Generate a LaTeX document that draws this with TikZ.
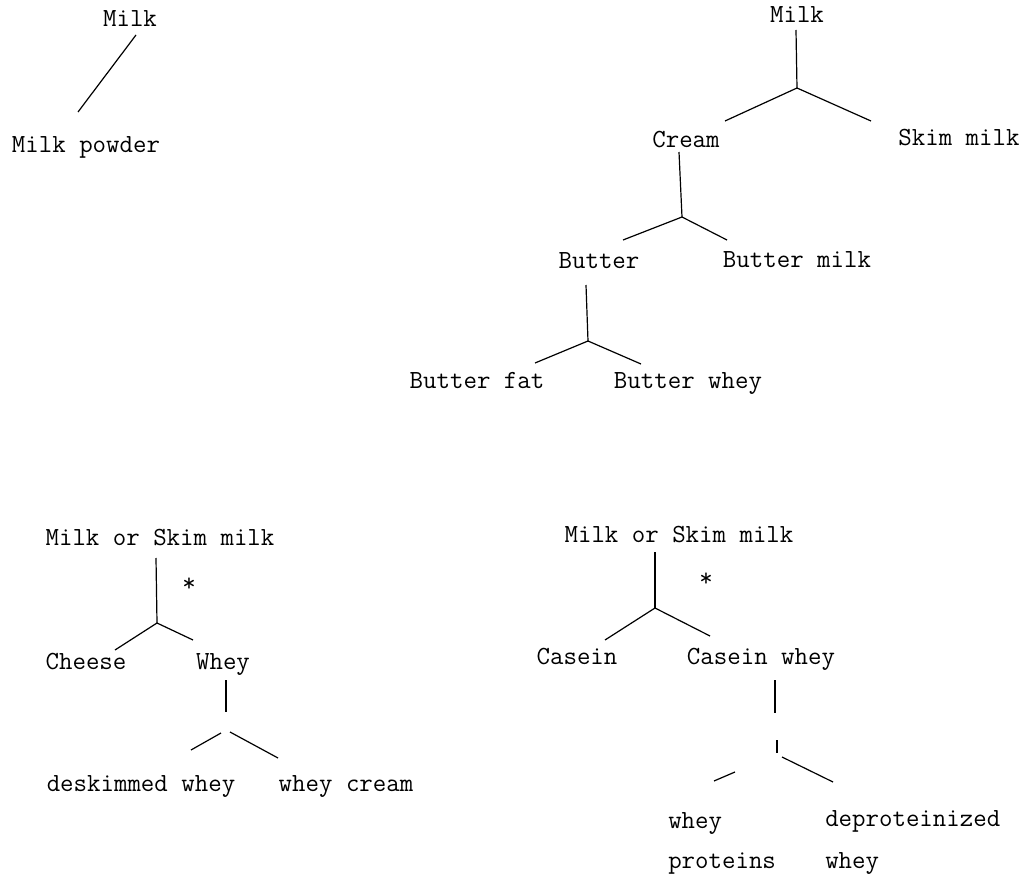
\documentclass[tikz,border=0pt]{standalone}
\usepackage{fontspec}
\begin{document}
\begin{tikzpicture}[x=0.75pt,y=-0.75pt,
  lbl/.style={font=\ttfamily\fontsize{19.6}{22}\selectfont,inner sep=0pt,anchor=base},
  lbll/.style={lbl,anchor=base west},
  ln/.style={line width=0.9pt,black},
  starlbl/.style={font=\ttfamily\fontsize{19.6}{22}\selectfont,inner sep=0pt,anchor=base}]
\useasboundingbox (0,0) rectangle (1036,874);
% Panel 1
\node[lbl] (p1milk) at (130,27) {Milk};
\node[lbl] (p1powder) at (86,152) {Milk powder};
\coordinate (p1a) at (136,35); \coordinate (p1b) at (78,112);
\draw[ln] (p1a) -- (p1b);
% Panel 2
\node[lbl] (p2milk) at (797,23) {Milk};
\node[lbl] (p2cream) at (686,147) {Cream};
\node[lbl] (p2skim) at (959,146) {Skim milk};
\node[lbl] (p2butter) at (599,268) {Butter};
\node[lbl] (p2bmilk) at (797,267) {Butter milk};
\node[lbl] (p2bfat) at (477,388) {Butter fat};
\node[lbl] (p2bwhey) at (688,388) {Butter whey};
\coordinate (p2t1) at (796,30); \coordinate (p2j1) at (797,88);
\coordinate (p2l1) at (725,121); \coordinate (p2r1) at (871,121);
\draw[ln] (p2t1) -- (p2j1);
\draw[ln] (p2l1) -- (p2j1) -- (p2r1);
\coordinate (p2t2) at (679,152); \coordinate (p2j2) at (682,217);
\coordinate (p2l2) at (623,240); \coordinate (p2r2) at (727,240);
\draw[ln] (p2t2) -- (p2j2);
\draw[ln] (p2l2) -- (p2j2) -- (p2r2);
\coordinate (p2t3) at (586,285); \coordinate (p2j3) at (588,341);
\coordinate (p2l3) at (535,363); \coordinate (p2r3) at (641,364);
\draw[ln] (p2t3) -- (p2j3);
\draw[ln] (p2l3) -- (p2j3) -- (p2r3);
% Panel 3
\node[lbl] (p3milk) at (160,545) {Milk or Skim milk};
\node[starlbl] (p3star) at (189,591) {*};
\node[lbl] (p3cheese) at (86,669) {Cheese};
\node[lbl] (p3whey) at (223,669) {Whey};
\node[lbl] (p3desk) at (141,791) {deskimmed whey};
\node[lbl] (p3cream) at (346,791) {whey cream};
\coordinate (p3t1) at (156,558); \coordinate (p3j1) at (157,623);
\coordinate (p3l1) at (115,650); \coordinate (p3r1) at (193,640);
\draw[ln] (p3t1) -- (p3j1);
\draw[ln] (p3l1) -- (p3j1) -- (p3r1);
\coordinate (p3t2) at (226,680); \coordinate (p3m2) at (226,712);
\coordinate (p3la) at (221,733); \coordinate (p3lb) at (191,750);
\coordinate (p3ra) at (230,732); \coordinate (p3rb) at (278,758);
\draw[ln] (p3t2) -- (p3m2);
\draw[ln] (p3la) -- (p3lb);
\draw[ln] (p3ra) -- (p3rb);
% Panel 4
\node[lbl] (p4milk) at (679,542) {Milk or Skim milk};
\node[starlbl] (p4star) at (706,586) {*};
\node[lbl] (p4casein) at (577,664) {Casein};
\node[lbl] (p4cwhey) at (761,664) {Casein whey};
\node[lbll] (p4wp1) at (668,828) {whey};
\node[lbll] (p4wp2) at (668,868) {proteins};
\node[lbll] (p4dw1) at (825,826) {deproteinized};
\node[lbll] (p4dw2) at (825,868) {whey};
\coordinate (p4t1) at (655,552); \coordinate (p4j1) at (655,608);
\coordinate (p4l1) at (605,640); \coordinate (p4r1) at (710,636);
\draw[ln] (p4t1) -- (p4j1);
\draw[ln] (p4l1) -- (p4j1) -- (p4r1);
\coordinate (p4t2) at (775,680); \coordinate (p4m2) at (775,713);
\coordinate (p4m3) at (777,740); \coordinate (p4j2) at (777,753);
\coordinate (p4la) at (735,772); \coordinate (p4lb) at (714,781);
\coordinate (p4ra) at (782,757); \coordinate (p4rb) at (833,782);
\draw[ln] (p4t2) -- (p4m2);
\draw[ln] (p4m3) -- (p4j2);
\draw[ln] (p4la) -- (p4lb);
\draw[ln] (p4ra) -- (p4rb);
\end{tikzpicture}
\end{document}
